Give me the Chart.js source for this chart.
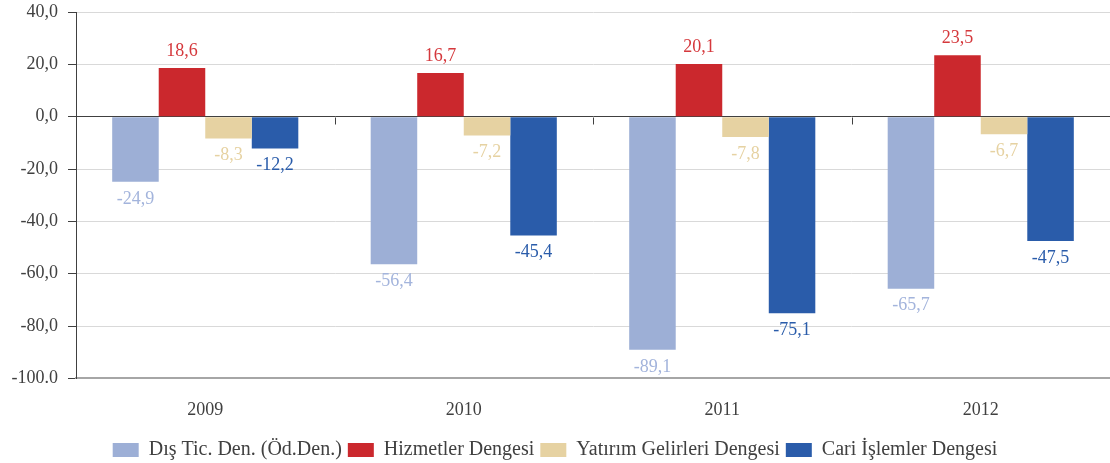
<!DOCTYPE html>
<html lang="tr">
<head>
  <meta charset="UTF-8">
  <title>Cari İşlemler Dengesi</title>
  <script src="https://cdn.jsdelivr.net/npm/chart.js"></script>
  <style>
    html, body {
      margin: 0;
      padding: 0;
      background: #ffffff;
    }
    #wrap {
      width: 1110px;
      height: 463px;
    }
  </style>
</head>
<body>

  <div id="wrap"><canvas id="cariChart"></canvas></div>

  <script>
    const years = ['2009', '2010', '2011', '2012'];
    const disTicaret = [-24.9, -56.4, -89.1, -65.7];
    const hizmetler = [18.6, 16.7, 20.1, 23.5];
    const yatirimGelirleri = [-8.3, -7.2, -7.8, -6.7];
    const cariIslemler = [-12.2, -45.4, -75.1, -47.5];
    const yTickLabels = {40: '40,0', 20: '20,0', 0: '0,0', '-20': '-20,0', '-40': '-40,0', '-60': '-60,0', '-80': '-80,0', '-100': '-100.0'};

    const FONT = '"Liberation Serif", "DejaVu Serif", serif';

    // value labels above / below each bar, same colour family as the bar
    const valueLabels = {
      id: 'valueLabels',
      afterDatasetsDraw(chart) {
        const ctx = chart.ctx;
        ctx.save();
        ctx.font = '18px ' + FONT;
        ctx.textAlign = 'center';
        chart.data.datasets.forEach((ds, i) => {
          const meta = chart.getDatasetMeta(i);
          meta.data.forEach((bar, j) => {
            const v = ds.data[j];
            const txt = v.toFixed(1).replace('.', ',');
            ctx.fillStyle = ds.labelColor;
            if (v >= 0) {
              ctx.textBaseline = 'bottom';
              ctx.fillText(txt, bar.x, bar.y - 8);
            } else {
              ctx.textBaseline = 'top';
              ctx.fillText(txt, bar.x, bar.y + 8);
            }
          });
        });
        ctx.restore();
      }
    };

    // small tick marks between categories on the zero line
    const zeroTicks = {
      id: 'zeroTicks',
      afterDatasetsDraw(chart) {
        const x = chart.scales.x, y = chart.scales.y;
        const y0 = Math.round(y.getPixelForValue(0)) + 0.5;
        const ctx = chart.ctx;
        ctx.save();
        ctx.strokeStyle = '#404040';
        ctx.lineWidth = 1;
        for (let i = 1; i < years.length; i++) {
          const px = Math.round((x.getPixelForValue(i - 1) + x.getPixelForValue(i)) / 2) + 0.5;
          ctx.beginPath();
          ctx.moveTo(px, y0);
          ctx.lineTo(px, y0 + 7);
          ctx.stroke();
        }
        ctx.restore();
      }
    };

    new Chart(document.getElementById('cariChart'), {
      type: 'bar',
      data: {
        labels: years,
        datasets: [
          { label: 'Dış Tic. Den. (Öd.Den.)', data: disTicaret, backgroundColor: '#9dafd6', labelColor: '#a3b4dc' },
          { label: 'Hizmetler Dengesi', data: hizmetler, backgroundColor: '#cb282d', labelColor: '#d5383c' },
          { label: 'Yatırım Gelirleri Dengesi', data: yatirimGelirleri, backgroundColor: '#e6d2a2', labelColor: '#e6d2a2' },
          { label: 'Cari İşlemler Dengesi', data: cariIslemler, backgroundColor: '#2a5caa', labelColor: '#2a5caa' }
        ]
      },
      plugins: [valueLabels, zeroTicks],
      options: {
        responsive: true,
        maintainAspectRatio: false,
        animation: false,
        layout: {
          padding: { top: 12, right: 0, bottom: -7, left: 0 }
        },
        datasets: {
          bar: {
            barPercentage: 1.0,
            categoryPercentage: 0.72
          }
        },
        plugins: {
          legend: {
            position: 'bottom',
            labels: {
              color: '#404040',
              font: { family: FONT, size: 20 },
              boxWidth: 26,
              boxHeight: 14,
              padding: 6
            }
          },
          tooltip: { enabled: false }
        },
        scales: {
          x: {
            grid: { display: false },
            border: { display: true, color: '#a6a6a6', width: 2 },
            ticks: {
              color: '#404040',
              font: { family: FONT, size: 18 },
              padding: 13
            }
          },
          y: {
            min: -100,
            max: 40,
            afterFit(scale) {
              scale.width = 76;
              scale.paddingTop = 0;
              scale.paddingBottom = 0;
            },
            afterBuildTicks(scale) {
              scale.ticks = [40, 20, 0, -20, -40, -60, -80, -100].map(v => ({ value: v }));
            },
            border: { display: true, color: '#404040', width: 1 },
            grid: {
              color: c => c.tick.value === 0 ? '#404040' : (c.tick.value === -100 ? '#a6a6a6' : '#d9d9d9'),
              tickColor: '#404040',
              tickLength: 8
            },
            ticks: {
              color: '#404040',
              font: { family: FONT, size: 18 },
              padding: 10,
              callback: v => yTickLabels[v]
            }
          }
        }
      }
    });
  </script>

</body>
</html>
